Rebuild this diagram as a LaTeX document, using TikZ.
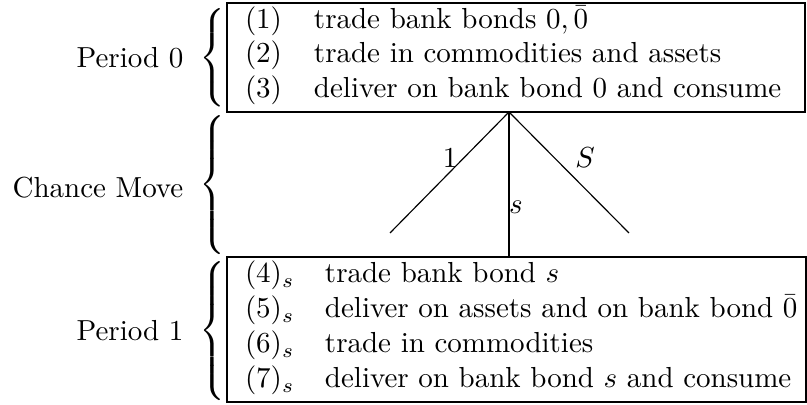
\documentclass[tikz,border=0pt]{standalone}
\usepackage{graphicx}
\usetikzlibrary{fit}
\newcommand{\bracepx}[1]{$\delimiterfactor=1000\delimitershortfall=0pt\nulldelimiterspace=0pt\left\{\vcenter{\hrule height #1 width 0pt}\right.$}
\begin{document}
\begin{tikzpicture}[x=0.345pt,y=-0.345pt,
  every node/.style={inner sep=0pt, outer sep=0pt},
  stagebox/.style={draw, line width=0.55pt, inner sep=0pt},
  txt/.style={anchor=base west},
  branch/.style={line width=0.4pt},
  stem/.style={line width=0.5pt}]
\useasboundingbox (0,0) rectangle (807,405);
% boxes
\coordinate (b0nw) at (227,3);
\coordinate (b0se) at (805,112);
\node[stagebox, fit=(b0nw)(b0se)] (box0) {};
\coordinate (b1nw) at (227,257);
\coordinate (b1se) at (806,402);
\node[stagebox, fit=(b1nw)(b1se)] (box1) {};
% period 0 lines
\node[txt] (n1) at (245,29) {$(1)$};
\node[txt] (t1) at (314,29) {trade bank bonds $0,\bar 0$};
\node[txt] (n2) at (245,63) {$(2)$};
\node[txt] (t2) at (314,63) {trade in commodities and assets};
\node[txt] (n3) at (245,98) {$(3)$};
\node[txt] (t3) at (314,98) {deliver on bank bond 0 and consume};
% period 1 lines
\node[txt] (n4) at (245,283) {$(4)_s$};
\node[txt] (t4) at (325,283) {trade bank bond $s$};
\node[txt] (n5) at (245,318) {$(5)_s$};
\node[txt] (t5) at (325,318) {deliver on assets and on bank bond $\bar 0$};
\node[txt] (n6) at (245,353) {$(6)_s$};
\node[txt] (t6) at (325,353) {trade in commodities};
\node[txt] (n7) at (245,388) {$(7)_s$};
\node[txt] (t7) at (325,388) {deliver on bank bond $s$ and consume};
% tree
\coordinate (apex) at (509,112);
\coordinate (leafA) at (390,233);
\coordinate (leafB) at (629,233);
\draw[branch] (apex) -- (leafA);
\draw[branch] (apex) -- (leafB);
\draw[stem] (apex) -- (apex |- box1.north);
\node (l1) at (450,158) {$1$};
\node (lS) at (585,158) {$S$};
\node (ls) at (516,207) {$s$};
% braces
\node[anchor=east] (br0) at (225,58) {\scalebox{1}[0.94]{\bracepx{32pt}}};
\node[anchor=east] (brc) at (225,185) {\bracepx{47pt}};
\node[anchor=east] (br1) at (225,331) {\bracepx{47pt}};
% labels
\node (lab0) at (130,58) {Period 0};
\node (labc) at (98,188) {Chance Move};
\node (lab1) at (130,331) {Period 1};
\end{tikzpicture}
\end{document}
